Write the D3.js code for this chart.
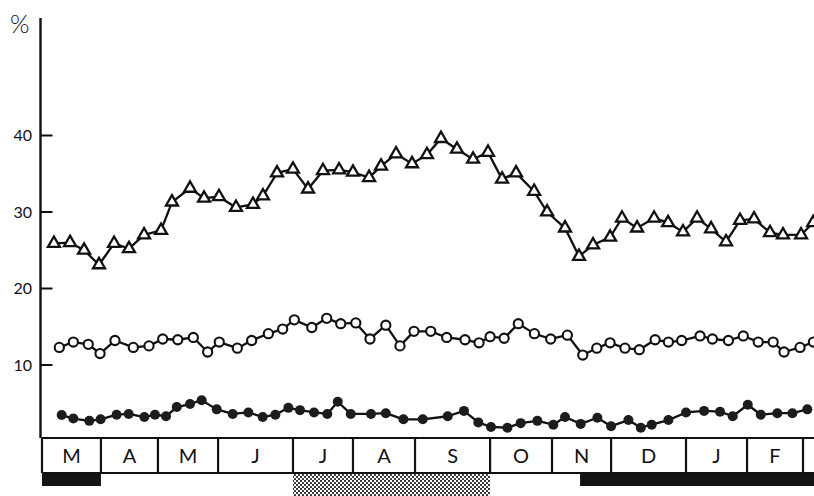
<!DOCTYPE html>
<html>
<head>
<meta charset="utf-8">
<script src="https://cdn.jsdelivr.net/npm/d3@7"></script>
<style>
  body { margin: 0; background: #fff; }
  svg { display: block; }
  text { font-family: "Lato", "Open Sans", sans-serif; fill: #111; }
</style>
</head>
<body>
<svg id="chart" width="814" height="496"></svg>
<script>
// Months along the bottom band, with their boundaries in weeks from the start of March
const monthLabels = ["M", "A", "M", "J", "J", "A", "S", "O", "N", "D", "J", "F"];
const monthBounds = [0, 3.95, 7.77, 11.8, 16.82, 20.84, 25.0, 30.03, 34.18, 38.14, 43.16, 47.25, 51.0, 55.0];

// Y axis tick values (%)
const yTicks = [10, 20, 30, 40];

// Upper series (open triangles): week of observation and percentage
const triWeeks = [0.80, 1.88, 2.82, 3.82, 4.83, 5.83, 6.84, 7.98, 8.71, 9.92,
  10.86, 11.86, 13.0, 14.14, 14.81, 15.75, 16.82, 17.83, 18.83, 19.91,
  20.84, 21.92, 22.72, 23.73, 24.8, 25.8, 26.74, 27.81, 28.89, 29.89,
  30.83, 31.77, 32.98, 33.85, 35.05, 35.99, 36.93, 38.07, 38.87, 39.88,
  41.02, 41.96, 42.96, 43.9, 44.84, 45.84, 46.78, 47.72, 48.79, 49.66,
  50.87, 51.68];
const triValues = [25.9, 26.0, 25.0, 23.1, 25.9, 25.2, 27.0, 27.6, 31.3, 33.1,
  31.8, 32.0, 30.6, 31.0, 32.1, 35.1, 35.6, 33.0, 35.4, 35.5,
  35.2, 34.5, 36.0, 37.6, 36.3, 37.5, 39.6, 38.2, 36.9, 37.8,
  34.3, 35.1, 32.7, 30.0, 27.9, 24.2, 25.7, 26.7, 29.2, 27.9,
  29.2, 28.6, 27.4, 29.2, 27.8, 26.1, 28.9, 29.1, 27.3, 27.0,
  27.0, 28.6];

// Middle series (open circles)
const openWeeks = [1.16, 2.1, 3.1, 3.89, 4.89, 6.12, 7.17, 8.09, 9.1, 10.14,
  11.1, 11.88, 13.09, 14.05, 15.17, 16.13, 16.91, 18.08, 19.08, 20.02,
  21.03, 21.98, 23.04, 23.99, 24.93, 26.05, 27.12, 28.35, 29.29, 30.03,
  30.97, 31.92, 33.0, 34.09, 35.21, 36.24, 37.18, 38.07, 39.07, 40.03,
  41.09, 41.98, 42.87, 44.1, 44.93, 46.0, 47.0, 48.0, 49.0, 49.73,
  50.8, 51.7];
const openValues = [12.3, 13.0, 12.7, 11.5, 13.2, 12.3, 12.5, 13.4, 13.3, 13.6,
  11.7, 13.0, 12.2, 13.2, 14.1, 14.7, 15.9, 14.9, 16.1, 15.4,
  15.5, 13.4, 15.2, 12.5, 14.4, 14.4, 13.6, 13.3, 12.9, 13.7,
  13.5, 15.4, 14.1, 13.4, 13.9, 11.3, 12.2, 12.9, 12.2, 12.0,
  13.3, 13.0, 13.2, 13.8, 13.4, 13.2, 13.8, 13.0, 13.0, 11.7,
  12.3, 13.0];

// Lower series (filled circles)
const filledWeeks = [1.32, 2.1, 3.17, 3.93, 5.0, 5.81, 6.86, 7.57, 8.31, 9.03,
  9.92, 10.7, 11.71, 12.78, 13.83, 14.79, 15.64, 16.51, 17.29, 18.23,
  19.12, 19.82, 20.69, 22.05, 23.04, 24.22, 25.52, 27.19, 28.28, 29.24,
  30.09, 31.19, 32.08, 33.2, 34.27, 35.05, 36.1, 37.22, 38.14, 39.3,
  40.13, 40.86, 41.98, 43.16, 44.37, 45.44, 46.29, 47.3, 48.17, 49.28,
  50.29, 51.29];
const filledValues = [3.46, 3.0, 2.7, 2.9, 3.5, 3.6, 3.2, 3.5, 3.3, 4.5,
  4.9, 5.4, 4.2, 3.6, 3.8, 3.2, 3.5, 4.4, 4.1, 3.8,
  3.6, 5.2, 3.6, 3.6, 3.7, 2.9, 2.9, 3.3, 4.0, 2.5,
  1.9, 1.8, 2.4, 2.7, 2.2, 3.2, 2.3, 3.1, 2.0, 2.8,
  1.8, 2.2, 2.8, 3.8, 4.0, 3.9, 3.3, 4.8, 3.5, 3.7,
  3.7, 4.2];

// Periods marked under the month band (in weeks)
const solidPeriods = [[0, 3.95], [36.06, 56]];
const dottedPeriods = [[16.82, 30.03]];

const svg = d3.select("#chart");
const ink = "#111";

const x = d3.scaleLinear().domain([0, 51]).range([42, 803]);
const y = d3.scaleLinear().domain([0, 40]).range([441.5, 135.5]);

const axisX = 40.5, axisTop = 18;
const bandTop = 438, bandBottom = 473;

// stipple pattern for the dotted period
const defs = svg.append("defs");
const pat = defs.append("pattern")
  .attr("id", "stipple")
  .attr("width", 4).attr("height", 4)
  .attr("patternUnits", "userSpaceOnUse");
pat.append("rect").attr("width", 4).attr("height", 4).attr("fill", "#fff");
pat.append("circle").attr("cx", 1).attr("cy", 1).attr("r", 1.1).attr("fill", "#222");
pat.append("circle").attr("cx", 3).attr("cy", 3).attr("r", 1.1).attr("fill", "#222");

// period bars below the band
svg.append("g").selectAll("rect")
  .data(solidPeriods)
  .join("rect")
  .attr("x", d => x(d[0]))
  .attr("y", bandBottom)
  .attr("width", d => x(d[1]) - x(d[0]))
  .attr("height", 13)
  .attr("fill", "#141414");

svg.append("g").selectAll("rect")
  .data(dottedPeriods)
  .join("rect")
  .attr("x", d => x(d[0]))
  .attr("y", bandTop + 36)
  .attr("width", d => x(d[1]) - x(d[0]))
  .attr("height", 22)
  .attr("fill", "url(#stipple)");

// month band
const band = svg.append("g");
band.append("line")
  .attr("x1", x(0)).attr("x2", 814)
  .attr("y1", bandTop).attr("y2", bandTop)
  .attr("stroke", ink).attr("stroke-width", 2.2);
band.append("line")
  .attr("x1", x(0)).attr("x2", 814)
  .attr("y1", bandBottom).attr("y2", bandBottom)
  .attr("stroke", ink).attr("stroke-width", 2.2);
band.selectAll("line.div")
  .data(monthBounds)
  .join("line")
  .attr("class", "div")
  .attr("x1", d => x(d)).attr("x2", d => x(d))
  .attr("y1", bandTop).attr("y2", bandBottom)
  .attr("stroke", ink).attr("stroke-width", 2.2);
band.selectAll("text")
  .data(monthLabels)
  .join("text")
  .attr("x", (d, i) => (x(monthBounds[i]) + x(monthBounds[i + 1])) / 2)
  .attr("y", (bandTop + bandBottom) / 2 + 7.5)
  .attr("text-anchor", "middle")
  .attr("font-size", 20)
  .text(d => d);

// y axis
const yAxis = svg.append("g");
yAxis.append("line")
  .attr("x1", axisX).attr("x2", axisX)
  .attr("y1", axisTop).attr("y2", bandTop)
  .attr("stroke", ink).attr("stroke-width", 2.4);
yAxis.selectAll("line.tick")
  .data(yTicks)
  .join("line")
  .attr("class", "tick")
  .attr("x1", axisX).attr("x2", axisX + 12)
  .attr("y1", d => y(d)).attr("y2", d => y(d))
  .attr("stroke", ink).attr("stroke-width", 2);
yAxis.selectAll("text")
  .data(yTicks)
  .join("text")
  .attr("x", 32)
  .attr("y", d => y(d) + 5.5)
  .attr("text-anchor", "end")
  .attr("font-size", 16)
  .text(d => d);
svg.append("text")
  .attr("x", 10).attr("y", 33)
  .attr("font-size", 25)
  .attr("font-weight", 300)
  .text("%");

// series
const line = d3.line().x(d => x(d.w)).y(d => y(d.v));
const zip = (ws, vs) => ws.map((w, i) => ({ w, v: vs[i] }));
const triData = zip(triWeeks, triValues);
const openData = zip(openWeeks, openValues);
const filledData = zip(filledWeeks, filledValues);

const plot = svg.append("g");
[triData, openData, filledData].forEach(data => {
  plot.append("path")
    .datum(data)
    .attr("d", line)
    .attr("fill", "none")
    .attr("stroke", ink)
    .attr("stroke-width", 2.3)
    .attr("stroke-linejoin", "round");
});

plot.append("g").selectAll("path")
  .data(triData)
  .join("path")
  .attr("transform", d => `translate(${x(d.w)},${y(d.v)})`)
  .attr("d", d3.symbol().type(d3.symbolTriangle).size(62))
  .attr("fill", "#fff")
  .attr("stroke", ink)
  .attr("stroke-width", 2.3)
  .attr("stroke-linejoin", "miter");

plot.append("g").selectAll("circle")
  .data(openData)
  .join("circle")
  .attr("cx", d => x(d.w))
  .attr("cy", d => y(d.v))
  .attr("r", 4.6)
  .attr("fill", "#fff")
  .attr("stroke", ink)
  .attr("stroke-width", 2.1);

plot.append("g").selectAll("circle")
  .data(filledData)
  .join("circle")
  .attr("cx", d => x(d.w))
  .attr("cy", d => y(d.v))
  .attr("r", 5)
  .attr("fill", "#1c1c1c");
</script>
</body>
</html>
